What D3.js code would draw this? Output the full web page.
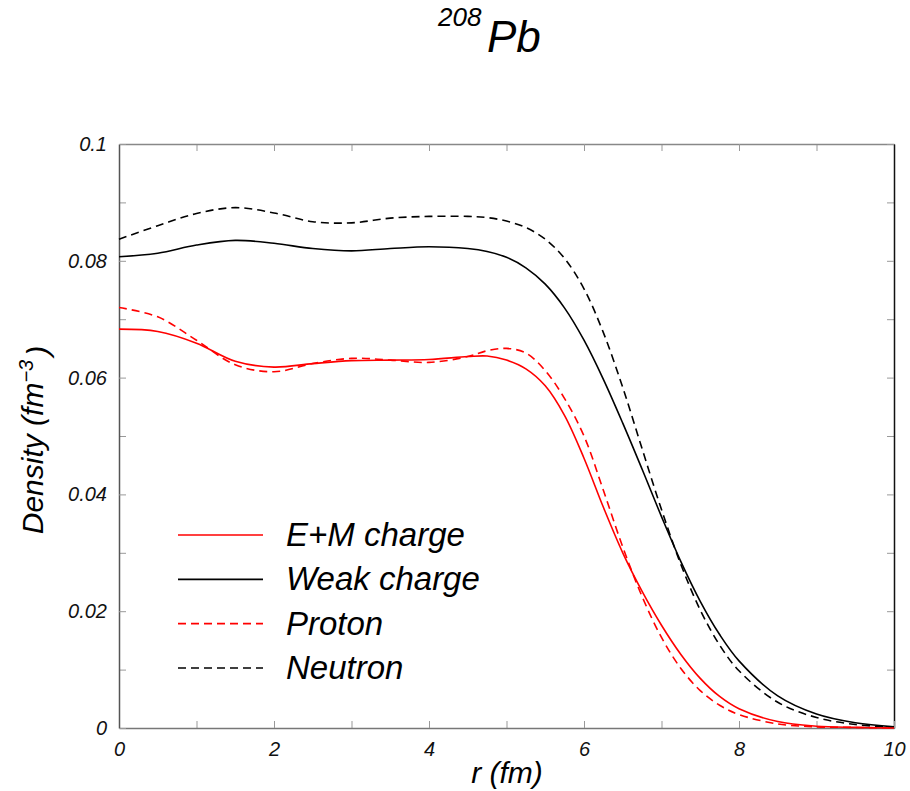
<!DOCTYPE html>
<html lang="en">
<head>
<meta charset="utf-8">
<title>208Pb densities</title>
<style>
html,body{margin:0;padding:0;background:#fff;}
svg{display:block;font-family:"Liberation Sans",Arial,Helvetica,sans-serif;}
.tick text{font-style:italic;}
</style>
</head>
<body>
<div id="chart"></div>
<script src="https://cdn.jsdelivr.net/npm/d3@7"></script>
<script>
/* ---------- data ---------- */
const radius = [0,0.5,1,1.5,2,2.5,3,3.5,4,4.5,4.75,5,5.25,5.5,5.75,6,6.25,6.5,6.75,7,7.25,7.5,7.75,8,8.5,9,9.5,10];
const emCharge = [0.0683,0.0679,0.0659,0.0628,0.0618,0.0624,0.0629,0.0630,0.0631,0.0636,0.0637,0.0630,0.0615,0.0586,0.0535,0.0462,0.0378,0.0300,0.0234,0.0176,0.0126,0.0085,0.0054,0.0033,0.0011,0.0003,0.0001,0.0000];
const weakCharge = [0.0807,0.0813,0.0827,0.0835,0.0830,0.0821,0.0817,0.0821,0.0824,0.0821,0.0816,0.0806,0.0788,0.0760,0.0719,0.0664,0.0597,0.0522,0.0443,0.0362,0.0285,0.0217,0.0160,0.0115,0.0055,0.0024,0.0009,0.0002];
const proton = [0.0720,0.0704,0.0664,0.0622,0.0610,0.0624,0.0633,0.0630,0.0626,0.0636,0.0646,0.0650,0.0642,0.0612,0.0564,0.0500,0.0407,0.0310,0.0225,0.0155,0.0102,0.0064,0.0039,0.0023,0.0007,0.0002,0.0001,0.0000];
const neutron = [0.0837,0.0860,0.0881,0.0891,0.0882,0.0867,0.0865,0.0873,0.0876,0.0876,0.0874,0.0868,0.0857,0.0837,0.0804,0.0752,0.0677,0.0583,0.0478,0.0374,0.0280,0.0202,0.0142,0.0098,0.0044,0.0018,0.0006,0.0001];

const seriesNames = ['E+M charge','Weak charge','Proton','Neutron'];
const seriesColors = ['#ff0000','#000000','#ff0000','#000000'];
const seriesDash = [null,null,'8,5','8,5'];

const xMajor = [0,2,4,6,8,10];
const xMinor = [1,3,5,7,9];
const yMajor = [0,0.02,0.04,0.06,0.08,0.1];
const yMinor = [0.01,0.03,0.05,0.07,0.09];

/* ---------- canvas ---------- */
const W = 910, H = 791;
const L = 119, R = 894, T = 144, B = 728;

const svg = d3.select('#chart').append('svg')
  .attr('width', W).attr('height', H);

const x = d3.scaleLinear().domain([0,10]).range([L,R]);
const y = d3.scaleLinear().domain([0,0.1]).range([B,T]);

const yFmt = d => d === 0 ? '0' : String(+d.toFixed(2));
const tickLen = 7;

function styleAxis(g, domainColor){
  g.select('.domain').attr('stroke', domainColor).attr('stroke-width', 1.5);
  g.selectAll('.tick line').attr('stroke', '#999').attr('stroke-width', 1);
  g.selectAll('.tick text')
    .attr('font-family', '"Liberation Sans",Arial,sans-serif')
    .attr('font-size', 20).attr('fill', '#111');
}
const minorOnly = g => { g.select('.domain').remove(); g.selectAll('line').attr('stroke','#999'); };

// minor ticks (all four sides)
svg.append('g').attr('transform', `translate(0,${B})`)
  .call(d3.axisBottom(x).tickValues(xMinor).tickSize(-tickLen).tickFormat('')).call(minorOnly);
svg.append('g').attr('transform', `translate(0,${T})`)
  .call(d3.axisTop(x).tickValues(xMinor).tickSize(-tickLen).tickFormat('')).call(minorOnly);
svg.append('g').attr('transform', `translate(${L},0)`)
  .call(d3.axisLeft(y).tickValues(yMinor).tickSize(-tickLen).tickFormat('')).call(minorOnly);
svg.append('g').attr('transform', `translate(${R},0)`)
  .call(d3.axisRight(y).tickValues(yMinor).tickSize(-tickLen).tickFormat('')).call(minorOnly);

// major axes
svg.append('g').attr('transform', `translate(0,${T})`)
  .call(d3.axisTop(x).tickValues(xMajor).tickSizeInner(-tickLen).tickSizeOuter(0).tickFormat(''))
  .call(g => styleAxis(g, '#888'));
svg.append('g').attr('transform', `translate(${R},0)`)
  .call(d3.axisRight(y).tickValues(yMajor).tickSizeInner(-tickLen).tickSizeOuter(0).tickFormat(''))
  .call(g => styleAxis(g, '#111'));
svg.append('g').attr('transform', `translate(0,${B})`)
  .call(d3.axisBottom(x).tickValues(xMajor).tickSizeInner(-tickLen).tickSizeOuter(0).tickPadding(14))
  .call(g => styleAxis(g, '#777'));
svg.append('g').attr('transform', `translate(${L},0)`)
  .call(d3.axisLeft(y).tickValues(yMajor).tickSizeInner(-tickLen).tickSizeOuter(0).tickPadding(12).tickFormat(yFmt))
  .call(g => styleAxis(g, '#555'));

/* ---------- curves ---------- */
const seriesValues = [emCharge, weakCharge, proton, neutron];
const series = seriesNames.map((name,i) => ({
  name, color: seriesColors[i], dash: seriesDash[i],
  points: radius.map((r,j) => [r, seriesValues[i][j]])
}));

const line = d3.line().x(d => x(d[0])).y(d => y(d[1])).curve(d3.curveCatmullRom.alpha(0.5));

svg.append('g').selectAll('path.curve')
  .data(series.slice().reverse())
  .join('path').attr('class','curve')
  .attr('fill','none')
  .attr('stroke', d => d.color)
  .attr('stroke-width', 1.6)
  .attr('stroke-dasharray', d => d.dash)
  .attr('d', d => line(d.points));

/* ---------- legend ---------- */
const legY = d3.scalePoint().domain(seriesNames).range([535,668]);
const leg = svg.append('g').selectAll('g')
  .data(series).join('g')
  .attr('transform', d => `translate(0,${legY(d.name)})`);
leg.append('line')
  .attr('x1',178).attr('x2',263)
  .attr('stroke', d => d.color).attr('stroke-width',1.6)
  .attr('stroke-dasharray', d => d.dash);
leg.append('text')
  .attr('x',286).attr('y',11)
  .attr('font-size',33).attr('font-style','italic').attr('fill','#000')
  .text(d => d.name);

/* ---------- titles ---------- */
const title = svg.append('text').attr('font-style','italic').attr('fill','#000');
title.append('tspan').attr('x',438).attr('y',26).attr('font-size',26).text('208');
title.append('tspan').attr('x',487).attr('y',52).attr('font-size',44).text('Pb');

svg.append('text')
  .attr('x',507).attr('y',783)
  .attr('text-anchor','middle')
  .attr('font-size',30).attr('font-style','italic')
  .text('r (fm)');

const yl = svg.append('text')
  .attr('transform','translate(43,440) rotate(-90)')
  .attr('text-anchor','middle')
  .attr('font-size',30).attr('font-style','italic');
yl.append('tspan').text('Density (fm');
yl.append('tspan').attr('dy','-0.5em').attr('font-size',20).text('\u22123');
yl.append('tspan').attr('dy','0.5em').attr('dx',4).text(')');
</script>
</body>
</html>
